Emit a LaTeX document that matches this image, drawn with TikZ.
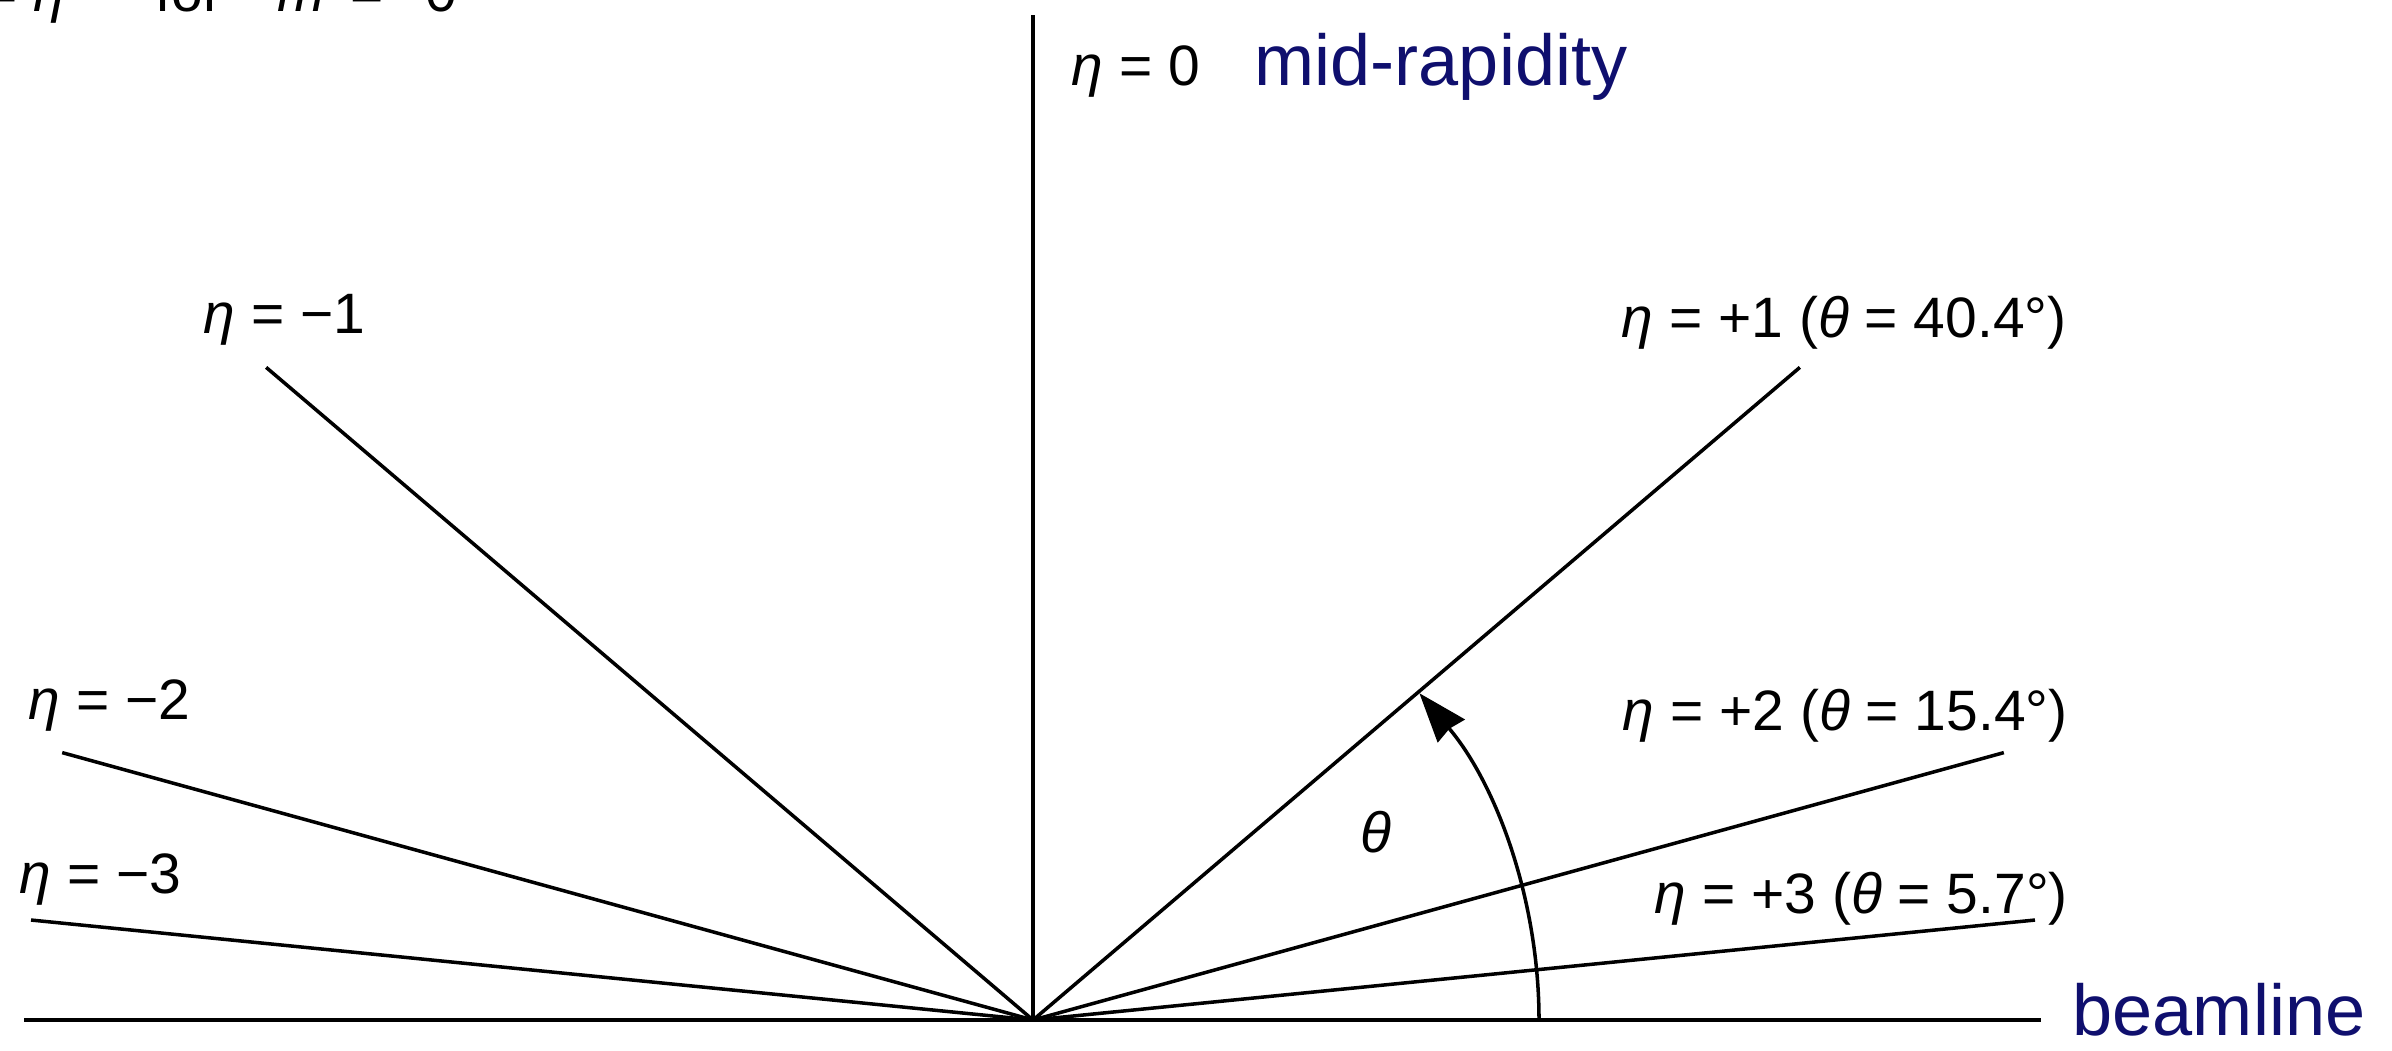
\documentclass[tikz,border=0pt]{standalone}
\usepackage{fontspec}
\setmainfont{Liberation Sans}
\usetikzlibrary{arrows.meta,calc}
\definecolor{navyblue}{RGB}{15,15,110}
\begin{document}
\begin{tikzpicture}[x=0.01cm,y=0.01cm,
  spoke/.style={line width=1pt,black},
  beam/.style={line width=1.25pt,black},
  lbl/.style={inner sep=0pt,anchor=base west,font=\fontsize{16.2}{19}\selectfont},
  navylbl/.style={inner sep=0pt,anchor=base west,text=navyblue,font=\fontsize{20.5}{24}\selectfont}]
\useasboundingbox (0,0) rectangle (2392,1050);
\clip (0,0) rectangle (2392,1050);
% geometry
\coordinate (O) at (1033,30);
\coordinate (top) at (1033,1035);
\coordinate (bl) at (24,30);
\coordinate (br) at (2041,30);
\coordinate (p1) at ($(O)+(40.4:1007)$);
\coordinate (p2) at ($(O)+(15.4:1007)$);
\coordinate (p3) at ($(O)+(5.7:1007)$);
\coordinate (m1) at ($(O)+(139.6:1007)$);
\coordinate (m2) at ($(O)+(164.6:1007)$);
\coordinate (m3) at ($(O)+(174.3:1007)$);
\coordinate (a0) at (1539,30);
% lines
\draw[beam] (bl) -- (br);
\draw[spoke] (O) -- (top);
\draw[spoke] (O) -- (p1);
\draw[spoke] (O) -- (p2);
\draw[spoke] (O) -- (p3);
\draw[spoke] (O) -- (m1);
\draw[spoke] (O) -- (m2);
\draw[spoke] (O) -- (m3);
\draw[spoke,-{Stealth[length=14pt,width=10pt,inset=0.8pt]}] (a0) arc[start angle=0,end angle=40.2,radius=5.06cm];
% labels
\node[lbl] (topnote) at (-16,1039) {=\hspace{0.16cm}{\itshape η}\hspace{0.9cm}for\hspace{0.55cm}{\itshape m}\hspace{0.26cm}=\hspace{0.42cm}0};
\node[lbl] (e0) at (1071,965) {{\itshape η} = 0};
\node[navylbl] (mid) at (1254,965) {mid-rapidity};
\node[lbl] (ep1) at (1621,713) {{\itshape η} = +1 ({\itshape θ} = 40.4°)};
\node[lbl] (em1) at (203,717) {{\itshape η} = −1};
\node[lbl] (ep2) at (1622,320) {{\itshape η} = +2 ({\itshape θ} = 15.4°)};
\node[lbl] (em2) at (28,331) {{\itshape η} = −2};
\node[lbl] (ep3) at (1654,137) {{\itshape η} = +3 ({\itshape θ} = 5.7°)};
\node[lbl] (em3) at (19,157) {{\itshape η} = −3};
\node[lbl] (th) at (1360,198) {{\itshape θ}};
\node[navylbl] (beamlbl) at (2072,15) {beamline};
\end{tikzpicture}
\end{document}
